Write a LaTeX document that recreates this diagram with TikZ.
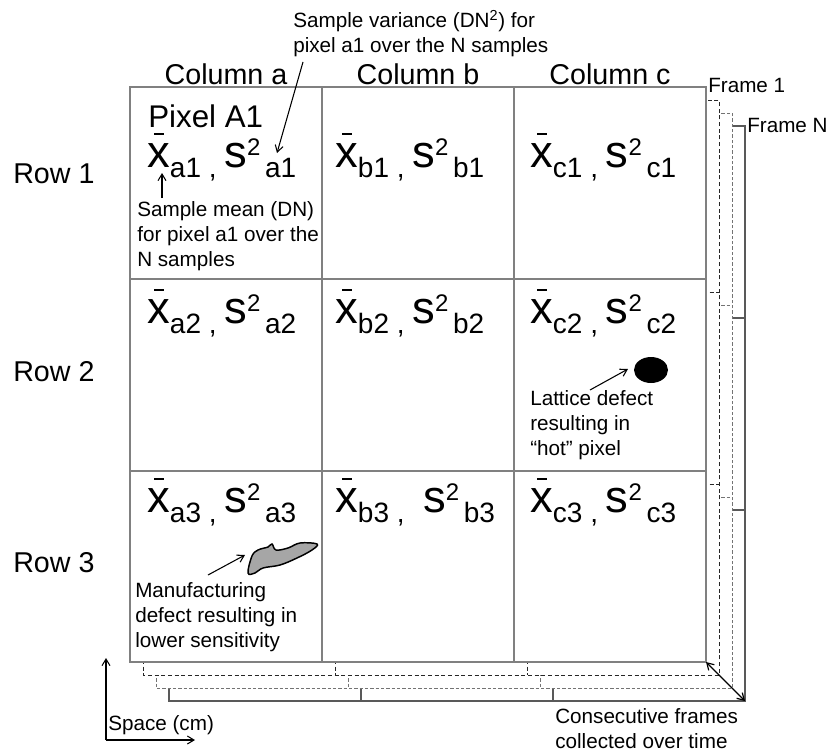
\documentclass[tikz,border=0pt]{standalone}
\usepackage{fontspec}
\setmainfont{Liberation Sans}
\usetikzlibrary{arrows.meta}

% x with a short bar on top
\newcommand{\xbar}{\leavevmode\rlap{\hspace{0.15em}\rule[0.7em]{0.22em}{0.055em}}x}
% one pixel value: mean and variance
\newcommand{\pixval}[2][0pt]{%
  {\fontsize{34}{34}\selectfont\xbar}%
  \raisebox{-8pt}{\fontsize{21}{21}\selectfont #2\ ,\ }\hspace{#1}%
  {\fontsize{34}{34}\selectfont s}%
  \raisebox{9pt}{\fontsize{18}{18}\selectfont 2}%
  \raisebox{-8pt}{\fontsize{21}{21}\selectfont\,#2}}

\begin{document}
\begin{tikzpicture}[
  x=0.75pt, y=-0.75pt,
  every node/.style={inner sep=0pt},
  cellgrid/.style={draw=black!50, line width=1.3pt},
  frameone/.style={draw=black!85, line width=0.7pt, dash pattern=on 3pt off 2pt},
  frametwo/.style={draw=black!55, line width=0.7pt, dash pattern=on 2.5pt off 1.5pt},
  framelast/.style={draw=black!65, line width=1pt},
  lbl/.style={font=\fontsize{21.5}{24}\selectfont},
  note/.style={font=\fontsize{15.5}{18.4}\selectfont, align=left},
  val/.style={anchor=base west},
  pointer/.style={-{Straight Barb[length=5pt,width=6pt]}, line width=0.8pt}
]
\useasboundingbox (0,0) rectangle (829,753);

%% ─── stacked frames, back to front ─────────────────────────────────────────
\foreach \k/\sty in {3/framelast, 2/frametwo, 1/frameone, 0/cellgrid}{
  \begin{scope}[shift={(13*\k,13*\k)}]
    \fill[white] (130,87) rectangle (706,662);
    \draw[\sty] (130,87) rectangle (706,662);
    \draw[\sty] (322,87) -- (322,662) (514,87) -- (514,662)
                (130,279) -- (706,279) (130,471) -- (706,471);
  \end{scope}
}
\coordinate (frontcorner) at (706,662);
\coordinate (backcorner)  at (745,701);

%% ─── labels ────────────────────────────────────────────────────────────────
\node[lbl, anchor=base] (col_a) at (226,84) {Column a};
\node[lbl, anchor=base] (col_b) at (418,84) {Column b};
\node[lbl, anchor=base] (col_c) at (610,84) {Column c};
\node[lbl, anchor=base west] (row_1) at (13,183) {Row 1};
\node[lbl, anchor=base west] (row_2) at (13,381) {Row 2};
\node[lbl, anchor=base west] (row_3) at (13,572) {Row 3};
\node[note, anchor=base west] (frame_1) at (708,92)  {Frame 1};
\node[note, anchor=base west] (frame_n) at (747,132) {Frame N};

%% ─── cell values ───────────────────────────────────────────────────────────
\node[val, font=\fontsize{23.5}{26}\selectfont] (pix_a1) at (148,127) {Pixel A1};
\node[val] (v_a1) at (147,167) {\pixval{a1}};
\node[val] (v_b1) at (335,167) {\pixval{b1}};
\node[val] (v_c1) at (530,167) {\pixval{c1}};
\node[val] (v_a2) at (147,323) {\pixval{a2}};
\node[val] (v_b2) at (335,323) {\pixval{b2}};
\node[val] (v_c2) at (530,323) {\pixval{c2}};
\node[val] (v_a3) at (147,512) {\pixval{a3}};
\node[val] (v_b3) at (335,512) {\pixval[8pt]{b3}};
\node[val] (v_c3) at (530,512) {\pixval{c3}};

%% ─── notes and pointers (base = last line) ─────────────────────────────────
\node[note, anchor=base west] (n_var) at (293,52)
  {Sample variance (DN\textsuperscript{2}) for\\pixel a1 over the N samples};
\node[note, anchor=base west] (n_mean) at (137,266)
  {Sample mean (DN)\\for pixel a1 over the\\N samples};
\node[note, anchor=base west] (n_hot) at (530,455)
  {Lattice defect\\resulting in\\“hot” pixel};
\node[note, anchor=base west] (n_man) at (135,647)
  {Manufacturing\\defect resulting in\\lower sensitivity};
\node[note, anchor=base west] (n_space) at (108,730) {Space (cm)};
\node[note, anchor=base west] (n_time) at (555,748)
  {Consecutive frames\\collected over time};

% defects
\fill (651,370) ellipse [x radius=12.75pt, y radius=9.75pt];
\draw[fill=black!35, line width=1.1pt] plot[smooth cycle, tension=0.6] coordinates
  {(248,573) (252,556) (258,550) (268,547) (272,544) (276,550) (288,548)
   (300,543) (317,544) (312,550) (297,558) (280,565) (263,568) (255,573)};

\coordinate (var_from) at (303,62);   \coordinate (var_to) at (277,153);
\coordinate (mean_from) at (162,198); \coordinate (mean_to) at (162,173);
\coordinate (hot_from) at (590,390);  \coordinate (hot_to) at (628,369);
\coordinate (man_from) at (208,575);  \coordinate (man_to) at (245,555);
\coordinate (origin) at (106,740);
\coordinate (up) at (106,658);
\coordinate (right) at (195,740);

\draw[pointer] (var_from) -- (var_to);
\draw[pointer] (mean_from) -- (mean_to);
\draw[pointer] (hot_from) -- (hot_to);
\draw[pointer] (man_from) -- (man_to);
\draw[pointer] (origin) -- (up);
\draw[pointer] (origin) -- (right);
\draw[{Straight Barb[length=5pt,width=6pt]}-{Straight Barb[length=5pt,width=6pt]}, line width=0.9pt]
  (frontcorner) -- (backcorner);

\end{tikzpicture}
\end{document}
